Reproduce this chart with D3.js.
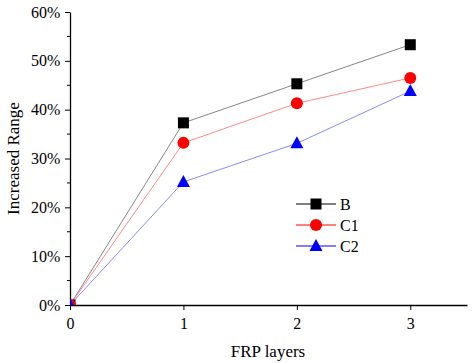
<!DOCTYPE html>
<html>
<head>
<meta charset="utf-8">
<script src="https://cdn.jsdelivr.net/npm/d3@7"></script>
<style>
  body { margin: 0; background: #fff; }
  text { font-family: "Liberation Serif", "Times New Roman", serif; }
</style>
</head>
<body>
<svg id="chart" width="472" height="363"></svg>
<script>
// data
var layers = [0, 1, 2, 3];
var seriesB = [0, 37.3, 45.3, 53.3];
var seriesC1 = [0, 33.2, 41.3, 46.5];
var seriesC2 = [0, 25.2, 33.1, 43.8];
var xTicks = [0, 1, 2, 3];
var yTicks = [0, 10, 20, 30, 40, 50, 60];

var series = [
    {name: "B", values: seriesB, color: "#000", line: "#888", shape: "square"},
    {name: "C1", values: seriesC1, color: "#f00", line: "#ff8a8a", shape: "circle"},
    {name: "C2", values: seriesC2, color: "#00f", line: "#8a8aff", shape: "triangle"}
];

var svg = d3.select("#chart");
const plotLeft = 70, plotRight = 467, plotTop = 12, plotBottom = 305;

var x = d3.scaleLinear().domain([0, 3.5]).range([plotLeft, plotRight]);
var y = d3.scaleLinear().domain([0, 60]).range([plotBottom, plotTop]);

svg.append("clipPath").attr("id", "plot-clip")
    .append("rect")
    .attr("x", plotLeft).attr("y", plotTop - 2)
    .attr("width", plotRight - plotLeft).attr("height", plotBottom - plotTop + 2);

// axes
var xAxis = svg.append("g").attr("transform", "translate(0," + plotBottom + ")")
    .call(d3.axisBottom(x).tickValues(xTicks).tickFormat(d3.format("d")).tickSize(5).tickSizeOuter(0));
var yAxis = svg.append("g").attr("transform", "translate(" + plotLeft + ",0)")
    .call(d3.axisLeft(y).tickValues(yTicks).tickFormat(d => d + "%").tickSize(5).tickSizeOuter(0));

// minor ticks on y
svg.append("g").selectAll("line")
    .data(d3.range(5, 60, 10))
    .join("line")
    .attr("x1", plotLeft - 3).attr("x2", plotLeft)
    .attr("y1", d => y(d)).attr("y2", d => y(d))
    .attr("stroke", "#000");

[xAxis, yAxis].forEach(function (g) {
    g.select(".domain").attr("stroke", "#000").attr("stroke-width", 1.3);
    g.selectAll(".tick line").attr("stroke", "#000");
    g.selectAll(".tick text").attr("font-family", "Liberation Serif, serif").attr("font-size", 16).attr("fill", "#000");
});
xAxis.selectAll(".tick text").attr("dy", "1.0em");
yAxis.selectAll(".tick text").attr("dx", "-0.1em");

// axis titles
svg.append("text")
    .attr("x", 268).attr("y", 357)
    .attr("text-anchor", "middle")
    .attr("font-size", 17)
    .text("FRP layers");
svg.append("text")
    .attr("transform", "translate(19," + ((plotTop + plotBottom) / 2) + ") rotate(-90)")
    .attr("text-anchor", "middle")
    .attr("font-size", 17)
    .text("Increased Range");

function drawMarker(g, shape, color, cx, cy) {
    if (shape == "square") {
        g.append("rect").attr("x", cx - 5.5).attr("y", cy - 5.5)
            .attr("width", 11).attr("height", 11).attr("fill", color);
    } else if (shape == "circle") {
        g.append("circle").attr("cx", cx).attr("cy", cy).attr("r", 6).attr("fill", color);
    } else {
        g.append("path")
            .attr("d", "M" + cx + "," + (cy - 7) + "L" + (cx + 6.5) + "," + (cy + 5) + "L" + (cx - 6.5) + "," + (cy + 5) + "Z")
            .attr("fill", color);
    }
}

var plot = svg.append("g").attr("clip-path", "url(#plot-clip)");
var line = d3.line().x((d, i) => x(layers[i])).y(d => y(d));

for (let s of series) {
    plot.append("path")
        .attr("d", line(s.values))
        .attr("fill", "none")
        .attr("stroke", s.line)
        .attr("stroke-width", 1);
}
for (let s of series) {
    s.values.forEach((v, i) => drawMarker(plot, s.shape, s.color, x(layers[i]), y(v)));
}

// legend
var legend = svg.append("g");
series.forEach(function (s, i) {
    var ly = 204 + i * 21;
    legend.append("line")
        .attr("x1", 296).attr("x2", 336)
        .attr("y1", ly).attr("y2", ly)
        .attr("stroke", s.color).attr("stroke-width", 1);
    drawMarker(legend, s.shape, s.color, 316, ly);
    legend.append("text")
        .attr("x", 340).attr("y", ly + 5.5)
        .attr("font-size", 16)
        .text(s.name);
});
</script>
</body>
</html>
